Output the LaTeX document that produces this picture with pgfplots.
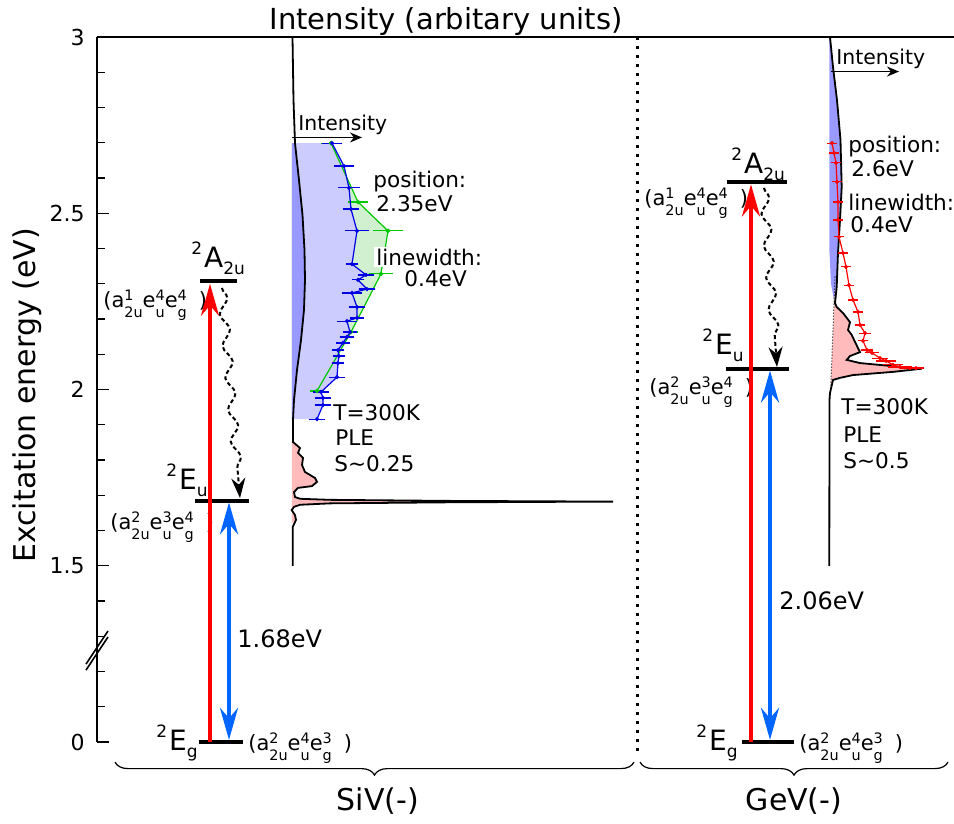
\documentclass[border=0pt]{standalone}
\usepackage{pgfplots}
\pgfplotsset{compat=1.18}
\usepackage{fontspec}
\setmainfont{DejaVu Sans}
\usetikzlibrary{arrows.meta,decorations.pathmorphing,decorations.pathreplacing}
\definecolor{fillblue}{RGB}{204,204,255}
\definecolor{darkfillblue}{RGB}{153,153,255}
\definecolor{fillgreen}{RGB}{208,240,208}
\definecolor{fillpink}{RGB}{255,187,187}
\definecolor{datablue}{RGB}{0,0,230}
\definecolor{datagreen}{RGB}{0,200,0}
\definecolor{datared}{RGB}{255,0,0}
\definecolor{arrowred}{RGB}{255,0,0}
\definecolor{arrowblue}{RGB}{0,102,255}
\newcommand{\fs}[1]{\fontsize{#1}{#1}\selectfont}
\newcommand{\up}[1]{\raisebox{3.5pt}{\fs{7.2}#1}}
\newcommand{\dn}[1]{\raisebox{-5pt}{\fs{7.2}#1}}
\newcommand{\us}[2]{\rlap{\up{#1}}\dn{#2}}
\newcommand{\cfg}[6]{{\fs{10.5}(a\us{#1}{#2}e\us{#3}{#4}e\us{#5}{#6}\hspace{6pt})}}
\newcommand{\lv}[3]{{\fs{14}\raisebox{6.5pt}{\fs{8.5}#1}\hspace{1pt}#2\raisebox{-3.5pt}{\fs{8.5}#3}}}
\begin{document}
\begin{tikzpicture}
% y axis in display units: 1.5 ... 3 eV linear; the ground state (0 eV) is drawn at 1.0 below the axis break
\begin{axis}[
  scale only axis, width=428.5pt, height=352.5pt,
  xmin=97, xmax=954, ymin=1, ymax=3,
  axis x line*=top, axis y line*=left,
  axis line style={line width=1pt},
  xtick=\empty,
  ytick={1,1.5,2,2.5,3}, yticklabels={0,1.5,2,2.5,3},
  minor ytick={1.1,1.2,1.3,1.4,1.6,1.7,1.8,1.9,2.1,2.2,2.3,2.4,2.6,2.7,2.8,2.9},
  tick align=inside,
  major tick length=6pt, minor tick length=4pt,
  tick style={black, line width=0.7pt},
  yticklabel style={font=\fs{11}, inner sep=0pt},
  yticklabel shift=6pt,
  clip=false,
]
\coordinate (BL) at (axis cs:0,0.7702);
\coordinate (TR) at (axis cs:954,3.105);

% ---------------- SiV spectra ----------------
\addplot[fill=fillgreen, draw=none] coordinates {(292,2.699)(331,2.699)(358,2.532)(388,2.450)(381,2.328)(351,2.163)(317,1.996)(292,1.996)};
\addplot[fill=fillblue, draw=none] coordinates {(292,2.699)(332,2.699)(344,2.634)(349,2.572)(351,2.512)(357,2.450)(352,2.356)(366,2.325)(358,2.311)(367,2.285)(352,2.274)(357,2.234)(357,2.203)(347,2.194)(350,2.163)(347,2.149)(343,2.132)(338,2.112)(339,2.095)(338,2.075)(337,2.035)(321,1.993)(323,1.976)(323,1.956)(317,1.916)(292,1.916)};
\addplot[fill=darkfillblue, draw=none] coordinates {(292,2.699)(295,2.699)(299,2.594)(302.5,2.495)(304.5,2.396)(305,2.311)(304,2.226)(301,2.140)(297,2.055)(294,1.970)(293,1.916)(292,1.916)};
\addplot[fill=fillpink, draw=none] coordinates {(292,1.851)(293,1.851)(300,1.834)(298,1.820)(303,1.806)(302,1.786)(305,1.766)(315,1.749)(317,1.738)(312,1.726)(298,1.721)(294,1.709)(295,1.695)(300,1.690)(330,1.687)(450,1.684)(613,1.682)(450,1.680)(330,1.677)(300,1.673)(294,1.667)(291.7,1.658)(295,1.644)(296,1.630)(292.5,1.622)(292,1.622)};
\addplot[black, line width=0.9pt] coordinates {(292.5,3.000)(293.5,2.821)(295,2.699)(299,2.594)(302.5,2.495)(304.5,2.396)(305,2.311)(304,2.226)(301,2.140)(297,2.055)(294,1.970)(293,1.913)(293,1.851)(300,1.834)(298,1.820)(303,1.806)(302,1.786)(305,1.766)(315,1.749)(317,1.738)(312,1.726)(298,1.721)(294,1.709)(295,1.695)(300,1.690)(330,1.687)(450,1.684)(613,1.682)(450,1.680)(330,1.677)(300,1.673)(294,1.667)(291.7,1.658)(295,1.644)(296,1.630)(292.7,1.610)(292.7,1.500)};
% PLE data SiV
\addplot[datagreen, line width=0.6pt, mark=*, mark size=0.8pt,
  error bars/.cd, x dir=both, x explicit, error bar style={datagreen, line width=0.6pt}, error mark options={datagreen, mark size=1.2pt, line width=0.6pt}]
  coordinates {(331,2.699)+-(8,0) (358,2.532)+-(8,0) (388,2.450)+-(13,0) (381,2.328)+-(10,0) (351,2.163)+-(5,0) (317,1.996)+-(5,0)};
\addplot[datablue, line width=0.6pt, mark=*, mark size=0.7pt,
  error bars/.cd, x dir=both, x explicit, error bar style={datablue, line width=0.6pt}, error mark options={datablue, mark size=1.2pt, line width=0.6pt}]
  coordinates {(332,2.699)+-(8,0) (344,2.634)+-(8,0) (349,2.572)+-(9,0) (351,2.512)+-(6,0) (357,2.450)+-(10,0) (352,2.356)+-(4,0) (366,2.325)+-(6,0) (358,2.311)+-(4,0) (367,2.285)+-(6,0) (352,2.274)+-(8,0) (357,2.234)+-(6,0) (357,2.203)+-(5,0) (347,2.194)+-(8,0) (350,2.163)+-(5,0) (347,2.149)+-(5,0) (343,2.132)+-(5,0) (338,2.112)+-(4,0) (339,2.095)+-(4,0) (338,2.075)+-(4,0) (337,2.035)+-(6,0) (321,1.993)+-(6,0) (323,1.976)+-(6,0) (323,1.956)+-(6,0) (317,1.916)+-(6,0)};

% ---------------- GeV spectra ----------------
\addplot[fill=darkfillblue, draw=none] coordinates {(829.3,3.0)(830,3.0)(833,2.915)(837,2.821)(840.5,2.708)(841.7,2.574)(840,2.481)(838,2.387)(836.7,2.291)(834,2.255)(831,2.30)(829.3,2.40)};
\addplot[fill=fillpink, draw=none] coordinates {(835,2.29)(835,2.245)(836.7,2.234)(843,2.217)(850,2.191)(848,2.169)(851.7,2.155)(855,2.135)(860,2.106)(850,2.095)(846.7,2.084)(860,2.075)(890,2.067)(921.7,2.059)(893,2.050)(853,2.041)(840,2.033)(833,2.027)(830.7,2.0)};
\addplot[black, line width=0.5pt, densely dotted] coordinates {(835,2.32)(830.7,2.0)};
\addplot[black, line width=0.9pt] coordinates {(830,3.000)(833,2.915)(837,2.821)(840.5,2.708)(841.7,2.574)(840,2.481)(838,2.387)(836.7,2.291)(835,2.245)(836.7,2.234)(843,2.217)(850,2.191)(848,2.169)(851.7,2.155)(855,2.135)(860,2.106)(850,2.095)(846.7,2.084)(860,2.075)(890,2.067)(921.7,2.059)(893,2.050)(853,2.041)(840,2.033)(833,2.027)(830,1.990)(829.5,1.970)(829.3,1.500)};
\addplot[datared, line width=0.6pt, mark=*, mark size=0.7pt,
  error bars/.cd, x dir=both, x explicit, error bar style={datared, line width=0.6pt}, error mark options={datared, mark size=1.2pt, line width=0.6pt}]
  coordinates {(832,2.699)+-(2.5,0) (834,2.671)+-(2.5,0) (836,2.643)+-(2.5,0) (837,2.589)+-(2.5,0) (838,2.532)+-(2.5,0) (838,2.481)+-(2.5,0) (839,2.433)+-(2.5,0) (843,2.387)+-(2.5,0) (846,2.348)+-(2.5,0) (849,2.296)+-(2.5,0) (853,2.254)+-(2.5,0) (858,2.220)+-(3,0) (860,2.183)+-(3,0) (865,2.160)+-(4,0) (863,2.138)+-(3,0) (867,2.112)+-(4,0) (872,2.104)+-(5,0) (880,2.089)+-(6,0) (886,2.081)+-(8,0) (893,2.070)+-(8,0) (900,2.064)+-(10,0) (910,2.061)+-(8,0) (916,2.061)+-(6,0)};

% Intensity arrows
\draw[black, line width=0.7pt, -{Stealth[length=6pt,width=5pt]}] (axis cs:292,2.715) -- (axis cs:362,2.715);
\node[anchor=base west, inner sep=0pt, font=\fs{10.2}] at (axis cs:298,2.736) {Intensity};
\draw[black, line width=0.7pt, -{Stealth[length=6pt,width=5pt]}] (axis cs:831,2.902) -- (axis cs:899,2.902);
\node[anchor=base west, inner sep=0pt, font=\fs{10.2}] at (axis cs:836,2.921) {Intensity};

% annotations SiV
\node[anchor=base west, inner sep=0pt, font=\fs{10.8}] at (axis cs:373,2.573) {position:};
\node[anchor=base west, inner sep=0pt, font=\fs{10.8}] at (axis cs:376,2.504) {2.35eV};
\node[anchor=base west, inner sep=1pt, fill=white, font=\fs{10.8}] at (axis cs:374,2.353) {linewidth:};
\node[anchor=base west, inner sep=0pt, font=\fs{10.8}] at (axis cs:404,2.291) {0.4eV};
\node[anchor=base west, inner sep=0pt, font=\fs{10.8}] at (axis cs:333,1.913) {T=300K};
\node[anchor=base west, inner sep=0pt, font=\fs{10.8}] at (axis cs:335,1.840) {PLE};
\node[anchor=base west, inner sep=0pt, font=\fs{10.8}] at (axis cs:334,1.766) {S\textasciitilde 0.25};
% annotations GeV
\node[anchor=base west, inner sep=0pt, font=\fs{10.8}] at (axis cs:848,2.671) {position:};
\node[anchor=base west, inner sep=0pt, font=\fs{10.8}] at (axis cs:851,2.603) {2.6eV};
\node[anchor=base west, inner sep=0pt, font=\fs{10.8}] at (axis cs:848,2.509) {linewidth:};
\node[anchor=base west, inner sep=0pt, font=\fs{10.8}] at (axis cs:850,2.444) {0.4eV};
\node[anchor=base west, inner sep=0pt, font=\fs{10.8}] at (axis cs:841,1.928) {T=300K};
\node[anchor=base west, inner sep=0pt, font=\fs{10.8}] at (axis cs:843,1.851) {PLE};
\node[anchor=base west, inner sep=0pt, font=\fs{10.8}] at (axis cs:843,1.777) {S\textasciitilde 0.5};

% configuration labels
\node[anchor=base west, inner sep=0pt] at (axis cs:103,2.234) {\cfg{1}{2u}{4}{u}{4}{g}};
\node[anchor=base west, inner sep=0pt] at (axis cs:110,1.604) {\cfg{2}{2u}{3}{u}{4}{g}};
\node[anchor=base west, inner sep=0pt] at (axis cs:248,0.975) {\cfg{2}{2u}{4}{u}{3}{g}};
\node[anchor=base west, inner sep=0pt] at (axis cs:644,2.523) {\cfg{1}{2u}{4}{u}{4}{g}};
\node[anchor=base west, inner sep=0pt] at (axis cs:649,1.987) {\cfg{2}{2u}{3}{u}{4}{g}};
\node[anchor=base west, inner sep=0pt] at (axis cs:799,0.975) {\cfg{2}{2u}{4}{u}{3}{g}};

% level labels
\node[anchor=base west, inner sep=0pt] at (axis cs:191,2.345) {\lv{2}{A}{2u}};
\node[anchor=base west, inner sep=0pt] at (axis cs:166,1.715) {\lv{2}{E}{u}};
\node[anchor=base west, inner sep=0pt] at (axis cs:156,0.975) {\lv{2}{E}{g}};
\node[anchor=base west, inner sep=0pt] at (axis cs:731,2.613) {\lv{2}{A}{2u}};
\node[anchor=base west, inner sep=0pt] at (axis cs:702,2.098) {\lv{2}{E}{u}};
\node[anchor=base west, inner sep=0pt] at (axis cs:696,0.975) {\lv{2}{E}{g}};

\node[anchor=base west, inner sep=0pt, font=\fs{12}] at (axis cs:237,1.267) {1.68eV};
\node[anchor=base west, inner sep=0pt, font=\fs{12}] at (axis cs:779,1.377) {2.06eV};

% energy levels
\addplot[black, line width=1.8pt] coordinates {(200,2.308)(237,2.308)};
\addplot[black, line width=1.8pt] coordinates {(195,1.684)(249,1.684)};
\addplot[black, line width=1.8pt] coordinates {(199,1.0)(243,1.0)};
\addplot[black, line width=1.8pt] coordinates {(727,2.589)(787,2.589)};
\addplot[black, line width=1.8pt] coordinates {(726,2.058)(789,2.058)};
\addplot[black, line width=1.8pt] coordinates {(742,1.0)(794,1.0)};

% transition arrows
\addplot[arrowred, line width=2.2pt, -{Stealth[length=16pt,width=9pt]}] coordinates {(210,1.0)(210,2.300)};
\addplot[arrowblue, line width=2pt, {Stealth[length=16pt,width=9pt]}-{Stealth[length=16pt,width=9pt]}] coordinates {(229,1.006)(229,1.680)};
\addplot[arrowred, line width=2.2pt, -{Stealth[length=16pt,width=9pt]}] coordinates {(751,1.0)(751,2.582)};
\addplot[arrowblue, line width=2pt, {Stealth[length=16pt,width=9pt]}-{Stealth[length=16pt,width=9pt]}] coordinates {(770,1.006)(770,2.054)};

% non-radiative wavy arrows
\draw[black, line width=1pt, dash pattern=on 2pt off 1.4pt, decorate,
  decoration={snake, amplitude=2.2pt, segment length=16pt, post length=10pt},
  -{Stealth[length=10pt,width=7pt]}] (axis cs:222,2.288) -- (axis cs:240,1.692);
\draw[black, line width=1pt, dash pattern=on 2pt off 1.4pt, decorate,
  decoration={snake, amplitude=2.2pt, segment length=16pt, post length=10pt},
  -{Stealth[length=10pt,width=7pt]}] (axis cs:764,2.572) -- (axis cs:777,2.064);

% separator
\draw[black, line width=1.5pt, dash pattern=on 1.5pt off 3pt] (axis cs:637,3.0) -- (axis cs:637,0.963);

% axis break
\draw[black, line width=0.8pt] (axis cs:86,1.204) -- (axis cs:108,1.298);
\draw[black, line width=0.8pt] (axis cs:86,1.221) -- (axis cs:108,1.315);

% braces
\draw[black, line width=0.6pt, decorate, decoration={brace, mirror, amplitude=6.5pt}] (axis cs:115,0.943) -- (axis cs:634,0.943);
\draw[black, line width=0.6pt, decorate, decoration={brace, mirror, amplitude=6.5pt}] (axis cs:640,0.943) -- (axis cs:948,0.943);
\node[anchor=base, inner sep=0pt, font=\fs{15}] at (axis cs:378,0.807) {SiV(-)};
\node[anchor=base, inner sep=0pt, font=\fs{15}] at (axis cs:794,0.807) {GeV(-)};

% titles
\node[anchor=base, inner sep=0pt, font=\fs{14.5}] at (axis cs:446,3.022) {Intensity (arbitary units)};
\node[anchor=base, rotate=90, inner sep=0pt, font=\fs{15}] at (axis cs:35.5,1.983) {Excitation energy (eV)};
\end{axis}
\pgfresetboundingbox
\path[use as bounding box] (BL) rectangle (TR);
\end{tikzpicture}
\end{document}
